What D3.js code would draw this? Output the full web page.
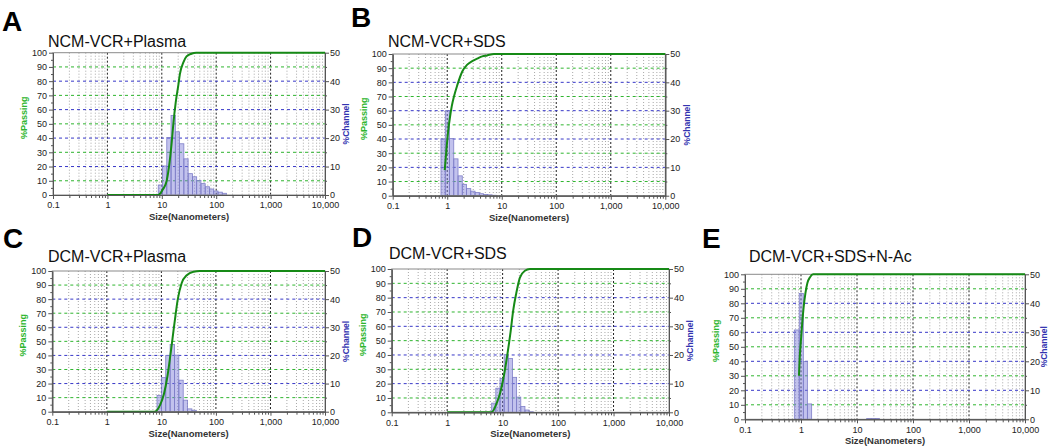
<!DOCTYPE html>
<html>
<head>
<meta charset="utf-8">
<script src="https://cdn.jsdelivr.net/npm/d3@7"></script>
<style>
  html, body { margin: 0; padding: 0; background: #fff; }
  svg { display: block; }
</style>
</head>
<body>
<svg id="chart" width="1050" height="447"></svg>
<script>
// ---------------- DATA ----------------
const panelIds = ["A", "B", "C", "D", "E"];
const titles = ["NCM-VCR+Plasma", "NCM-VCR+SDS", "DCM-VCR+Plasma", "DCM-VCR+SDS", "DCM-VCR+SDS+N-Ac"];

const xTicks = [0.1, 1, 10, 100, 1000, 10000];
const passTicks = [0, 10, 20, 30, 40, 50, 60, 70, 80, 90, 100];
const chanTicks = [0, 10, 20, 30, 40, 50];

// histogram bin edges (nm) and %Channel values
const edgesA = [8.60, 10.30, 12.35, 14.79, 17.72, 21.23, 25.44, 30.48, 36.52, 43.75, 52.42, 62.81, 75.25, 90.16, 108.0, 129.4, 155.0];
const chanA  = [3.5, 10.2, 20.2, 27.9, 22.2, 18.0, 12.7, 7.5, 6.4, 5.1, 4.0, 2.9, 2.1, 1.4, 1.0, 0.6];

const edgesB = [0.769, 0.920, 1.102, 1.318, 1.578, 1.888, 2.259, 2.704, 3.236, 3.873, 4.634, 5.546, 6.637, 7.943];
const chanB  = [20.0, 30.0, 20.2, 13.0, 7.0, 4.0, 2.5, 1.6, 1.1, 0.7, 0.45, 0.3, 0.15];

const edgesC = [8.32, 10.0, 12.02, 14.45, 17.38, 20.89, 25.12, 30.2, 36.31, 43.65];
const chanC  = [5.8, 12.1, 20.0, 23.9, 20.1, 11.2, 4.1, 1.0, 0.5];

const edgesD = [6.35, 7.54, 8.97, 10.65, 12.66, 15.05, 17.88, 21.26, 25.26, 30.02, 35.68];
const chanD  = [3.2, 8.4, 11.8, 20.1, 18.8, 12.2, 5.3, 2.0, 0.8, 0.2];

const edgesE = [0.76, 0.93, 1.10, 1.30, 1.55, 14.9, 18.0, 21.5, 25.1];
const chanE  = [30.8, 43.4, 19.9, 5.3, 0, 0.3, 0.3, 0.3];

// cumulative %Passing curves
const passSizeA = [1, 8.6, 10.5, 12.3, 14.1, 15.2, 16.3, 18.0, 20.1, 21.5, 24.8, 28.5, 35, 43, 10000];
const passA     = [0, 0, 4, 10, 25, 37, 50, 65, 77, 85, 93, 97.4, 99.3, 100, 100];

const passSizeB = [0.9, 0.97, 1.05, 1.12, 1.21, 1.33, 1.53, 1.88, 2.33, 2.87, 3.55, 4.38, 5.4, 7.2, 10000];
const passB     = [18, 33, 47, 55, 63, 70, 78, 87.5, 92.5, 95, 96.7, 98.3, 99, 100, 100];

const passSizeC = [1, 7.4, 9.4, 11.2, 12.9, 14.6, 16.0, 17.8, 20, 23.6, 29.2, 38.8, 51, 10000];
const passC     = [0, 0, 4.5, 13, 25, 40, 52, 66, 80, 91.5, 97, 99.5, 100, 100];

const passSizeD = [1, 6.3, 7.8, 9.1, 10.6, 12.2, 13.8, 15.5, 17.6, 20.5, 25.2, 31, 10000];
const passD     = [0, 0, 6.3, 14, 26, 40.5, 55, 71, 83, 94, 98.8, 100, 100];

const passSizeE = [0.92, 0.95, 1.0, 1.05, 1.12, 1.2, 1.3, 1.45, 1.65, 10000];
const passE     = [30, 43, 55, 66, 78, 87, 94, 98, 100, 100];

// ---------------- LAYOUT ----------------
const layout = {
  A: { box: [53, 325, 52.7, 195],     letter: [2, 31],    title: [48, 46.5],  chanOff: 24 },
  B: { box: [392.7, 665.3, 54, 195.7], letter: [351, 27],  title: [388, 46.5], chanOff: 25 },
  C: { box: [52.3, 325, 271, 411.7],   letter: [3, 248],   title: [48, 261.7], chanOff: 24 },
  D: { box: [391.7, 669, 269, 412.3],  letter: [352, 247], title: [389, 259.3], chanOff: 24 },
  E: { box: [745, 1025, 274.3, 419.3], letter: [702, 248], title: [749, 261.7], chanOff: 21.5 }
};

const data = {
  A: { edges: edgesA, chan: chanA, ps: passSizeA, pv: passA },
  B: { edges: edgesB, chan: chanB, ps: passSizeB, pv: passB },
  C: { edges: edgesC, chan: chanC, ps: passSizeC, pv: passC },
  D: { edges: edgesD, chan: chanD, ps: passSizeD, pv: passD },
  E: { edges: edgesE, chan: chanE, ps: passSizeE, pv: passE }
};

const FONT = "'Liberation Sans', Arial, sans-serif";
const svg = d3.select("#chart");

const minorX = [];
[0.1, 1, 10, 100, 1000].forEach(dec => { for (let m = 2; m <= 9; m++) minorX.push(dec * m); });
const majorX = [1, 10, 100, 1000];

panelIds.forEach((id, i) => {
  const L = layout[id], D = data[id];
  const [x0, x1, y0, y1] = L.box;
  const x = d3.scaleLog().domain([0.1, 10000]).range([x0, x1]);
  const yP = d3.scaleLinear().domain([0, 100]).range([y1, y0]);
  const yC = d3.scaleLinear().domain([0, 50]).range([y1, y0]);
  const g = svg.append("g");

  // vertical grid
  g.append("g").selectAll("line").data(minorX).join("line")
    .attr("x1", d => x(d)).attr("x2", d => x(d)).attr("y1", y0).attr("y2", y1)
    .attr("stroke", "#a8a8a8").attr("stroke-width", 1).attr("stroke-dasharray", "1,2");
  g.append("g").selectAll("line").data(majorX).join("line")
    .attr("x1", d => x(d)).attr("x2", d => x(d)).attr("y1", y0).attr("y2", y1)
    .attr("stroke", "#222").attr("stroke-width", 1).attr("stroke-dasharray", "2,2");

  // horizontal grid
  const hLines = passTicks.filter(v => v > 0 && v < 100);
  g.append("g").selectAll("line").data(hLines).join("line")
    .attr("x1", x0).attr("x2", x1).attr("y1", d => yP(d)).attr("y2", d => yP(d))
    .attr("stroke", d => (d % 20 === 0) ? "#3838c8" : "#2fb52f")
    .attr("stroke-width", 1).attr("stroke-dasharray", "3,3");

  // histogram bars
  const bars = D.chan.map((v, k) => ({ lo: D.edges[k], hi: D.edges[k + 1], v })).filter(b => b.v > 0);
  g.append("g").selectAll("rect").data(bars).join("rect")
    .attr("x", b => x(b.lo)).attr("width", b => x(b.hi) - x(b.lo))
    .attr("y", b => yC(b.v)).attr("height", b => yC(0) - yC(b.v))
    .attr("fill", "rgba(120,120,215,0.45)")
    .attr("stroke", "#7f7fc8").attr("stroke-width", 0.8);

  // frame
  g.append("rect").attr("x", x0).attr("y", y0).attr("width", x1 - x0).attr("height", y1 - y0)
    .attr("fill", "none").attr("stroke", "#8a8a8a").attr("stroke-width", 1);

  // cumulative curve
  const pts = D.ps.map((s, k) => [s, D.pv[k]]);
  g.append("path").datum(pts)
    .attr("d", d3.line().x(d => x(d[0])).y(d => yP(d[1])).curve(d3.curveMonotoneX))
    .attr("fill", "none").attr("stroke", "#168a16").attr("stroke-width", 2);

  // axes
  const styleAxis = sel => {
    sel.attr("font-family", FONT).attr("font-size", 9);
    sel.selectAll(".domain").attr("stroke", "#555");
    sel.selectAll(".tick line").attr("stroke", "#555");
    sel.selectAll(".tick text").attr("fill", "#222");
  };
  g.append("g").attr("transform", `translate(${x0},0)`)
    .call(d3.axisLeft(yP).tickValues(passTicks).tickSize(4).tickSizeOuter(0).tickPadding(2))
    .call(styleAxis);
  g.append("g").attr("transform", `translate(${x0},0)`)
    .call(d3.axisLeft(yP).tickValues(d3.range(5, 100, 10)).tickSize(2).tickSizeOuter(0).tickFormat(""))
    .call(styleAxis);
  g.append("g").attr("transform", `translate(${x1},0)`)
    .call(d3.axisRight(yC).tickValues(chanTicks).tickSize(4).tickSizeOuter(0).tickPadding(1))
    .call(styleAxis);
  g.append("g").attr("transform", `translate(${x1},0)`)
    .call(d3.axisRight(yC).tickValues(d3.range(5, 50, 10)).tickSize(2).tickSizeOuter(0).tickFormat(""))
    .call(styleAxis);
  g.append("g").attr("transform", `translate(0,${y1})`)
    .call(d3.axisBottom(x).tickValues(xTicks).tickFormat(d3.format(",")).tickSize(4).tickSizeOuter(0).tickPadding(3))
    .call(styleAxis);
  g.append("g").attr("transform", `translate(0,${y1})`)
    .call(d3.axisBottom(x).tickValues(minorX).tickSize(3).tickSizeOuter(0).tickFormat(""))
    .call(styleAxis);

  // axis titles
  g.append("text").attr("transform", `translate(${x0 - 26},${(y0 + y1) / 2 - 6}) rotate(-90)`)
    .attr("text-anchor", "middle").attr("font-family", FONT).attr("font-size", 9).attr("font-weight", "bold")
    .attr("fill", "#2db52d").text("%Passing");
  g.append("text").attr("transform", `translate(${x1 + L.chanOff},${(y0 + y1) / 2}) rotate(-90)`)
    .attr("text-anchor", "middle").attr("font-family", FONT).attr("font-size", 8.5).attr("font-weight", "bold")
    .attr("fill", "#3333b0").text("%Channel");
  g.append("text").attr("x", (x0 + x1) / 2).attr("y", y1 + 25)
    .attr("text-anchor", "middle").attr("font-family", FONT).attr("font-size", 9.5).attr("font-weight", "bold")
    .attr("fill", "#333").text("Size(Nanometers)");

  // title and panel letter
  g.append("text").attr("x", L.title[0]).attr("y", L.title[1])
    .attr("font-family", FONT).attr("font-size", 16).attr("fill", "#111").text(titles[i]);
  g.append("text").attr("x", L.letter[0]).attr("y", L.letter[1])
    .attr("font-family", FONT).attr("font-size", 28).attr("font-weight", "bold").attr("fill", "#000").text(id);
});
</script>
</body>
</html>
